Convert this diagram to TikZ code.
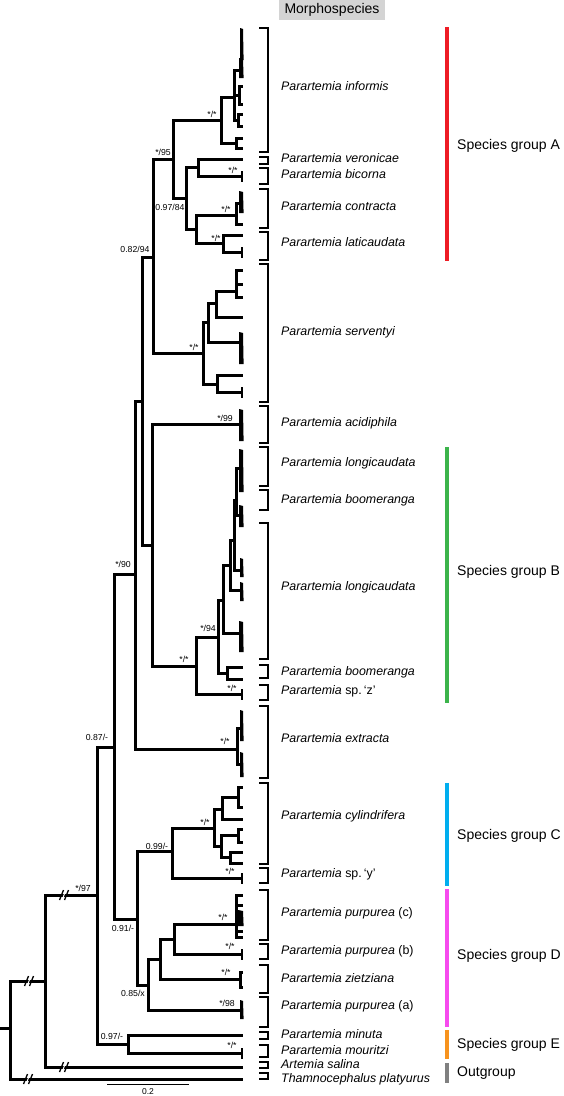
\documentclass[tikz,border=0pt]{standalone}
\usepackage{fontspec}
\setmainfont{Liberation Sans}
\definecolor{gA}{HTML}{EE1C25}
\definecolor{gB}{HTML}{3CB44B}
\definecolor{gC}{HTML}{00AEEF}
\definecolor{gD}{HTML}{F64BEE}
\definecolor{gE}{HTML}{F7931E}
\definecolor{gO}{HTML}{808080}
\definecolor{boxgray}{HTML}{D4D4D4}
\newcommand\tbr[2]{\draw[br] (#1) |- (#2);}
\newcommand\tleaf[2]{\path (243,#2) coordinate (lf#2); \draw[br] (#1) |- (lf#2);}
\newcommand\ttipbar[1]{\draw[line width=2.8pt] ([yshift=-5.5pt]#1) -- ([yshift=5.5pt]#1);}
\newcommand\tclus[3]{\fill ({#1-0.8},#2) -- (243,{#2+1}) -- (243.6,#3) -- ({#1-0.8},#3) -- cycle;}
\newcommand\tbkt[2]{\draw[brk] (259,#1) -- (268,#1) -- (268,#2) -- (259,#2);}
\newcommand\tbreak[2]{%
  \fill[white] ({#1-2.5},{#2+5}) -- ({#1+1.5},{#2-5}) -- ({#1+2.5},{#2-5}) -- ({#1-1.5},{#2+5}) -- cycle;
  \draw[line width=1.3pt] ({#1-4.5},{#2+5}) -- ({#1-0.5},{#2-5});
  \draw[line width=1.3pt] ({#1+0.5},{#2+5}) -- ({#1+4.5},{#2-5});}
\begin{document}
\begin{tikzpicture}[x=1pt,y=-1pt,
  br/.style={line width=3pt},
  brk/.style={line width=1.6pt},
  supp/.style={font=\fontsize{8.7}{9}\selectfont, inner sep=0pt},
  spl/.style={font=\fontsize{12.4}{13}\selectfont, anchor=mid west, inner sep=0pt},
  grp/.style={font=\fontsize{14}{15}\selectfont, anchor=mid west, inner sep=0pt},
  gbar/.style={line width=4.5pt}]
\useasboundingbox (0,0) rectangle (563,1096);

% ---------- header ----------
\node[fill=boxgray, minimum width=106pt, minimum height=20pt, inner sep=0pt,
      font=\fontsize{14}{15}\selectfont] (morph) at (332,10) {Morphospecies};

% ---------- backbone ----------
\coordinate (R0) at (0,1028);
\coordinate (R) at (10,1028);
\draw[br] (R0) -- (R);
\coordinate (A1) at (45,981);
\coordinate (tTha) at (243,1079);
\tbr{R}{A1} \tbr{R}{tTha}
\coordinate (A2) at (97,895);
\coordinate (tArt) at (243,1067);
\tbr{A1}{A2} \tbr{A1}{tArt}
\coordinate (B0) at (114,747);
\coordinate (E) at (128,1044);
\tbr{A2}{B0} \tbr{A2}{E}
\coordinate (tMou) at (242,1053);
\tleaf{E}{1035} \tbr{E}{tMou} \ttipbar{tMou}

\coordinate (C90) at (135,574);
\coordinate (D91) at (137,919);
\tbr{B0}{C90} \tbr{B0}{D91}
\coordinate (C1) at (142,401);
\coordinate (EX) at (237,749);
\tbr{C90}{C1} \tbr{C90}{EX}
\coordinate (N82) at (153,257);
\coordinate (N2) at (152,545);
\tbr{C1}{N82} \tbr{C1}{N2}

% ---------- group A ----------
\coordinate (N95) at (173,159);
\coordinate (SV) at (203,353);
\tbr{N82}{N95} \tbr{N82}{SV}
\coordinate (INF) at (221,120);
\coordinate (N3) at (186,198);
\tbr{N95}{INF} \tbr{N95}{N3}
\coordinate (INFa) at (234,97);
\coordinate (INFb) at (236,143);
\tbr{INF}{INFa} \tbr{INF}{INFb}
\tleaf{INFb}{138} \tleaf{INFb}{148}
\coordinate (INFa1) at (240,70);
\coordinate (INFa2) at (239,95);
\coordinate (INFa3) at (238,120);
\tbr{INFa}{INFa1} \tbr{INFa}{INFa2} \tbr{INFa}{INFa3}
\tclus{241}{28}{60} \tclus{240}{58}{78}
\tleaf{INFa2}{86} \tleaf{INFa2}{104}
\tleaf{INFa3}{114} \tleaf{INFa3}{126}

\coordinate (VB) at (198,167);
\coordinate (N97) at (196,229);
\tbr{N3}{VB} \tbr{N3}{N97}
\coordinate (tBic) at (242,176);
\tleaf{VB}{159} \tbr{VB}{tBic} \ttipbar{tBic}
\coordinate (CON) at (236,215);
\coordinate (LAT) at (223,243);
\tbr{N97}{CON} \tbr{N97}{LAT}
\coordinate (CONa) at (240,203);
\tbr{CON}{CONa} \tleaf{CON}{224}
\tclus{240}{191}{213}
\coordinate (tLat) at (242,252);
\tleaf{LAT}{235} \tbr{LAT}{tLat} \ttipbar{tLat}

% serventyi
\coordinate (S1) at (208,322);
\coordinate (S2) at (217,384);
\tbr{SV}{S1} \tbr{SV}{S2}
\coordinate (S11) at (216,303);
\coordinate (S12) at (240,342);
\tbr{S1}{S11} \tbr{S1}{S12}
\coordinate (S111) at (236,291);
\tbr{S11}{S111} \tleaf{S11}{317}
\tleaf{S111}{270} \tleaf{S111}{284} \tleaf{S111}{297}
\tclus{240}{332}{364}
\coordinate (tSv) at (242,392);
\tleaf{S2}{375} \tbr{S2}{tSv} \ttipbar{tSv}

% ---------- acidiphila + group B ----------
\coordinate (ACI) at (240,424);
\coordinate (N4) at (196,666);
\tbr{N2}{ACI} \tbr{N2}{N4}
\tclus{240}{409}{441}
\coordinate (N94) at (218,637);
\coordinate (tSpz) at (242,694);
\tbr{N4}{N94} \tbr{N4}{tSpz} \ttipbar{tSpz}
\coordinate (L1) at (223,600);
\coordinate (BL) at (227,673);
\tbr{N94}{L1} \tbr{N94}{BL}
\tleaf{BL}{667} \tleaf{BL}{679}
\coordinate (L2) at (230,565);
\coordinate (L3) at (240,633);
\tbr{L1}{L2} \tbr{L1}{L3}
\tclus{240}{621}{652}
\coordinate (L4) at (234,540);
\coordinate (L5) at (241,590);
\tbr{L2}{L4} \tbr{L2}{L5}
\tclus{241}{582}{601}
\coordinate (L6) at (236,500);
\coordinate (L7) at (241,570);
\tbr{L4}{L6} \tbr{L4}{L7}
\tclus{241}{558}{577}
\coordinate (L6a) at (239,468);
\coordinate (L6b) at (240,515);
\tbr{L6}{L6a} \tbr{L6}{L6b}
\tclus{240}{449}{492}
\tclus{240}{505}{527}

% extracta
\coordinate (EXa) at (241,728);
\coordinate (EXb) at (241,764);
\tbr{EX}{EXa} \tbr{EX}{EXb}
\tclus{241}{710}{741}
\tclus{241}{752}{777}

% ---------- groups C and D ----------
\coordinate (N99) at (172,851);
\coordinate (N85) at (148,985);
\tbr{D91}{N99} \tbr{D91}{N85}
\coordinate (CYL) at (214,828);
\coordinate (tSpy) at (242,878);
\tbr{N99}{CYL} \tbr{N99}{tSpy} \ttipbar{tSpy}
\coordinate (CY1) at (222,809);
\coordinate (CY2) at (221,846);
\tbr{CYL}{CY1} \tbr{CYL}{CY2}
\coordinate (CY11) at (238,797);
\tbr{CY1}{CY11} \tleaf{CY1}{819}
\tleaf{CY11}{787} \tleaf{CY11}{807}
\coordinate (CY21) at (238,835);
\coordinate (CY22) at (230,857);
\tbr{CY2}{CY21} \tbr{CY2}{CY22}
\tleaf{CY21}{829} \tleaf{CY21}{842}
\tleaf{CY22}{852} \tleaf{CY22}{863}

\coordinate (N5) at (160,959);
\coordinate (PUA) at (241,1010);
\tbr{N85}{N5} \tbr{N85}{PUA}
\tclus{241}{1000}{1019}
\coordinate (N6) at (174,939);
\coordinate (ZIE) at (240,979);
\tbr{N5}{N6} \tbr{N5}{ZIE}
\tleaf{ZIE}{972} \tleaf{ZIE}{987}
\coordinate (PUC) at (236,924);
\coordinate (tPub) at (242,954);
\tbr{N6}{PUC} \tbr{N6}{tPub} \ttipbar{tPub}
\coordinate (PUCa) at (240,918);
\tbr{PUC}{PUCa}
\foreach \yy in {895,905,931,937} {\tleaf{PUC}{\yy}}
\tclus{239}{910}{926}

% ---------- break marks ----------
\tbreak{28}{1079}
\tbreak{29}{981}
\tbreak{64}{1067}
\tbreak{64}{895}

% ---------- support values ----------
\node[supp] (s01) at (212,114) {*/*};
\node[supp] (s02) at (163,152) {*/95};
\node[supp] (s03) at (233,170) {*/*};
\node[supp] (s04) at (170,207) {0.97/84};
\node[supp] (s05) at (226,209) {*/*};
\node[supp] (s06) at (216,238) {*/*};
\node[supp] (s07) at (135,249) {0.82/94};
\node[supp] (s08) at (194,347) {*/*};
\node[supp] (s09) at (225,418) {*/99};
\node[supp] (s10) at (123,564) {*/90};
\node[supp] (s11) at (208,628) {*/94};
\node[supp] (s12) at (184,659) {*/*};
\node[supp] (s13) at (232,688) {*/*};
\node[supp] (s14) at (97,737) {0.87/-};
\node[supp] (s15) at (225,741) {*/*};
\node[supp] (s16) at (205,822) {*/*};
\node[supp] (s17) at (157,846) {0.99/-};
\node[supp] (s18) at (230,871) {*/*};
\node[supp] (s19) at (83,888) {*/97};
\node[supp] (s20) at (223,917) {*/*};
\node[supp] (s21) at (123,928) {0.91/-};
\node[supp] (s22) at (230,946) {*/*};
\node[supp] (s23) at (226,972) {*/*};
\node[supp] (s24) at (133,993) {0.85/x};
\node[supp] (s25) at (227,1003) {*/98};
\node[supp] (s26) at (112,1036) {0.97/-};
\node[supp] (s27) at (232,1045) {*/*};

% ---------- brackets ----------
\tbkt{28}{152}
\tbkt{157}{164}
\tbkt{168}{184}
\tbkt{189}{228}
\tbkt{232}{260}
\tbkt{264}{402}
\tbkt{406}{443}
\tbkt{447}{486}
\tbkt{490}{510}
\tbkt{523}{659}
\tbkt{665}{678}
\tbkt{685}{700}
\tbkt{706}{778}
\tbkt{783}{864}
\tbkt{868}{883}
\tbkt{890}{940}
\tbkt{944}{959}
\tbkt{965}{993}
\tbkt{997}{1027}
\tbkt{1032}{1039}
\tbkt{1045}{1057}
\tbkt{1062}{1068}
\tbkt{1073}{1079}

% ---------- species labels ----------
\node[spl] (p01) at (281,88) {\textit{Parartemia informis}};
\node[spl] (p02) at (281,160) {\textit{Parartemia veronicae}};
\node[spl] (p03) at (281,176) {\textit{Parartemia bicorna}};
\node[spl] (p04) at (281,208) {\textit{Parartemia contracta}};
\node[spl] (p05) at (281,244) {\textit{Parartemia laticaudata}};
\node[spl] (p06) at (281,333) {\textit{Parartemia serventyi}};
\node[spl] (p07) at (281,424) {\textit{Parartemia acidiphila}};
\node[spl] (p08) at (281,464) {\textit{Parartemia longicaudata}};
\node[spl] (p09) at (281,501) {\textit{Parartemia boomeranga}};
\node[spl] (p10) at (281,588) {\textit{Parartemia longicaudata}};
\node[spl] (p11) at (281,673) {\textit{Parartemia boomeranga}};
\node[spl] (p12) at (281,692) {\textit{Parartemia} sp.\,‘z’};
\node[spl] (p13) at (281,740) {\textit{Parartemia extracta}};
\node[spl] (p14) at (281,817) {\textit{Parartemia cylindrifera}};
\node[spl] (p15) at (281,875) {\textit{Parartemia} sp.\,‘y’};
\node[spl] (p16) at (281,914) {\textit{Parartemia purpurea\/} (c)};
\node[spl] (p17) at (281,952) {\textit{Parartemia purpurea\/} (b)};
\node[spl] (p18) at (281,980) {\textit{Parartemia zietziana}};
\node[spl] (p19) at (281,1007) {\textit{Parartemia purpurea\/} (a)};
\node[spl] (p20) at (281,1036) {\textit{Parartemia minuta}};
\node[spl] (p21) at (281,1052) {\textit{Parartemia mouritzi}};
\node[spl] (p22) at (281,1066) {\textit{Artemia salina}};
\node[spl] (p23) at (281,1080) {\textit{Thamnocephalus platyurus}};

% ---------- species groups ----------
\draw[gbar, gA] (447,27) -- (447,261);
\draw[gbar, gB] (447,447) -- (447,703);
\draw[gbar, gC] (447,783) -- (447,886);
\draw[gbar, gD] (447,889) -- (447,1027);
\draw[gbar, gE] (447,1030) -- (447,1059);
\draw[gbar, gO] (447,1063) -- (447,1083);
\node[grp] (gpA) at (457,147) {Species group A};
\node[grp] (gpB) at (457,573) {Species group B};
\node[grp] (gpC) at (457,837) {Species group C};
\node[grp] (gpD) at (457,957) {Species group D};
\node[grp] (gpE) at (457,1046) {Species group E};
\node[grp] (gpO) at (457,1074) {Outgroup};

% ---------- scale bar ----------
\coordinate (sbL) at (107,1084);
\coordinate (sbR) at (189,1084);
\draw[line width=0.8pt] (sbL) -- (sbR);
\node[font=\fontsize{8.5}{9}\selectfont, inner sep=0pt] (sbt) at (148,1092) {0.2};
\end{tikzpicture}
\end{document}
